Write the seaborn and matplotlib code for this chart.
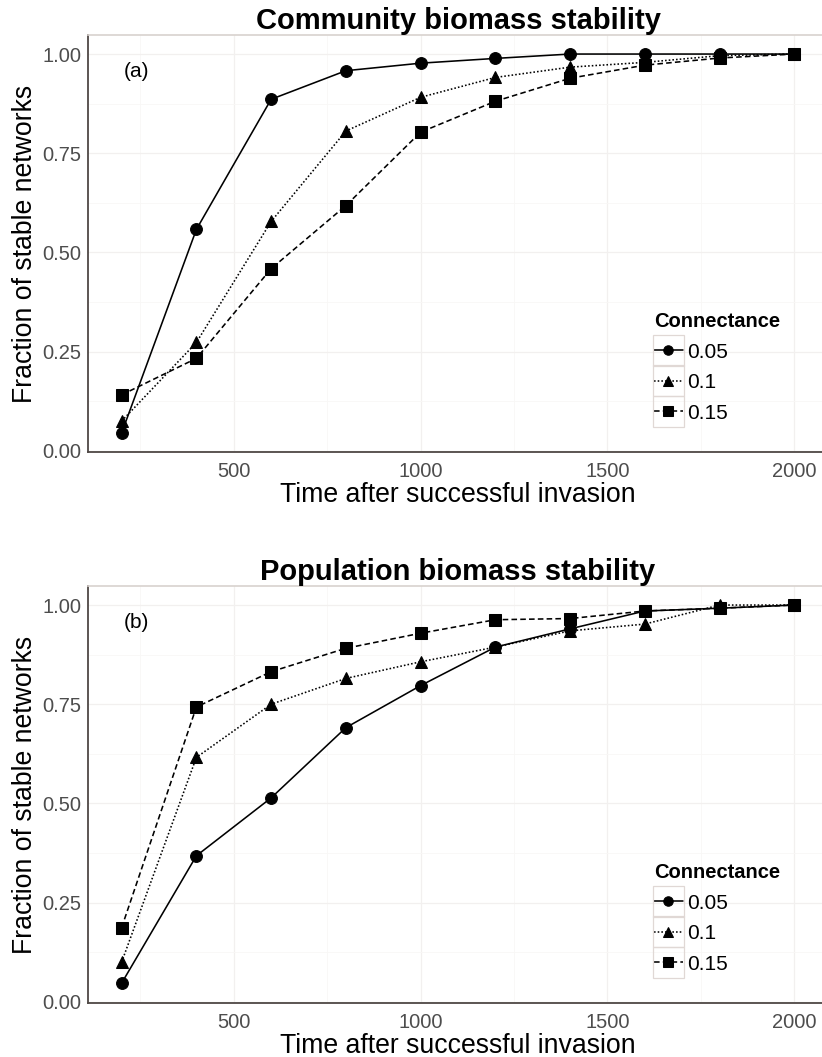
import numpy as np
import pandas as pd
import seaborn as sns
import matplotlib.pyplot as plt
from matplotlib.ticker import MultipleLocator
from matplotlib.patches import Rectangle

# Time points after a successful invasion
time = [200, 400, 600, 800, 1000, 1200, 1400, 1600, 1800, 2000]
connectance_levels = ["0.05", "0.1", "0.15"]

# Fraction of stable networks: community biomass
community_005 = [0.045, 0.558, 0.886, 0.958, 0.977, 0.989, 1.000, 1.000, 1.000, 1.000]
community_010 = [0.075, 0.273, 0.578, 0.806, 0.891, 0.941, 0.967, 0.979, 0.996, 1.000]
community_015 = [0.141, 0.233, 0.459, 0.618, 0.803, 0.881, 0.939, 0.972, 0.990, 1.000]

# Fraction of stable networks: population biomass
population_005 = [0.047, 0.368, 0.514, 0.691, 0.797, 0.894, 0.940, 0.985, 0.992, 1.000]
population_010 = [0.100, 0.616, 0.750, 0.815, 0.857, 0.894, 0.935, 0.952, 1.000, 1.000]
population_015 = [0.187, 0.743, 0.832, 0.891, 0.929, 0.963, 0.966, 0.985, 0.992, 1.000]

panel_titles = ["Community biomass stability", "Population biomass stability"]
panel_tags = ["(a)", "(b)"]


def long_frame(series):
    rows = []
    for level, values in zip(connectance_levels, series):
        for t, v in zip(time, values):
            rows.append({"time": t, "fraction": v, "Connectance": level})
    return pd.DataFrame(rows)


frames = [
    long_frame([community_005, community_010, community_015]),
    long_frame([population_005, population_010, population_015]),
]

sns.set_theme(style="white")
plt.rcParams["font.family"] = ["Liberation Sans", "DejaVu Sans"]
plt.rcParams["text.color"] = "black"

W, H = 822, 1057
fig = plt.figure(figsize=(W / 100, H / 100), dpi=100)
fig.patch.set_facecolor("white")

# axes boxes in pixels: (left, top, right, bottom)
boxes = [(88, 35, 828, 452), (88, 586, 828, 1003)]

markers = {"0.05": "o", "0.1": "^", "0.15": "s"}
dashes = {"0.05": "", "0.1": (1, 1.3), "0.15": (3.5, 2)}

axis_dark = "#4f4845"
tick_grey = "#4d4d4d"
legends = []

for i, (df, box) in enumerate(zip(frames, boxes)):
    l, t, r, b = box
    ax = fig.add_axes([l / W, 1 - b / H, (r - l) / W, (b - t) / H])
    sns.lineplot(
        data=df, x="time", y="fraction", style="Connectance",
        style_order=connectance_levels, markers=markers, dashes=dashes,
        color="black", markersize=8.5, linewidth=1.15,
        markeredgecolor="black", ax=ax,
    )
    ax.set_xlim(110, 2090)
    ax.set_ylim(-0.003, 1.048)
    ax.xaxis.set_major_locator(MultipleLocator(500))
    ax.xaxis.set_minor_locator(MultipleLocator(250))
    ax.yaxis.set_major_locator(MultipleLocator(0.25))
    ax.yaxis.set_minor_locator(MultipleLocator(0.125))
    ax.yaxis.set_major_formatter(plt.FuncFormatter(lambda v, p: f"{v:.2f}"))
    ax.grid(True, which="major", color="#f2f0ef", linewidth=0.9)
    ax.grid(True, which="minor", color="#f8f7f6", linewidth=0.6)
    ax.set_axisbelow(True)

    for side in ["left", "bottom"]:
        ax.spines[side].set_color(axis_dark)
        ax.spines[side].set_linewidth(1.3)
    ax.spines["top"].set_color("#d8d2ce")
    ax.spines["top"].set_linewidth(1.2)
    ax.spines["right"].set_visible(False)

    ax.tick_params(axis="both", which="major", length=3, width=1,
                   color=axis_dark, labelsize=14.5, labelcolor=tick_grey)
    ax.tick_params(axis="x", which="major", pad=4)
    ax.tick_params(axis="y", which="major", pad=2)
    ax.tick_params(axis="both", which="minor", length=0)

    ax.set_xlabel("Time after successful invasion", fontsize=19.2,
                  color="black", labelpad=1)
    ax.set_ylabel("Fraction of stable networks", fontsize=19.2,
                  color="black", labelpad=3)
    ax.set_title(panel_titles[i], fontsize=21, fontweight="bold", pad=4,
                 color="black")
    ax.text(240, 0.955, panel_tags[i], fontsize=15, ha="center", va="center",
            color="black")

    handles, labels = ax.get_legend_handles_labels()
    pairs = [(h, lab) for h, lab in zip(handles, labels) if lab in connectance_levels]
    leg = ax.legend(
        [p[0] for p in pairs], [p[1] for p in pairs], title="Connectance",
        loc="upper left", bbox_to_anchor=(0.745, 0.37), frameon=False,
        fontsize=15, title_fontproperties={"weight": "bold", "size": 14.5},
        handlelength=1.4, handletextpad=0.2, labelspacing=0.55,
        borderpad=0.2, markerscale=0.8, labelcolor="black",
    )
    leg.get_title().set_color("black")
    leg._legend_box.align = "left"
    legends.append(leg)

# light key boxes around each legend entry
fig.canvas.draw()
key = 31
for leg in legends:
    for line in leg.get_lines():
        bb = line.get_window_extent()
        cx = (bb.x0 + bb.x1) / 2
        cy = (bb.y0 + bb.y1) / 2
        fig.add_artist(Rectangle(
            ((cx - key / 2) / W, (cy - key / 2) / H), key / W, key / H,
            transform=fig.transFigure, facecolor="none",
            edgecolor="#e0d8d5", linewidth=0.9, zorder=3,
        ))

fig.savefig("out.png", dpi=100)
